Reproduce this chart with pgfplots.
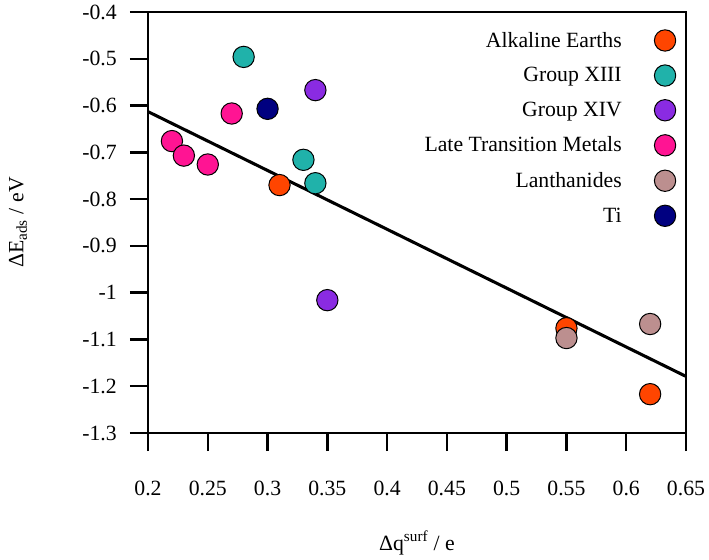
\documentclass[border=0pt]{standalone}
\usepackage{fontspec}
\setmainfont{Liberation Serif}
\usepackage{pgfplots}
\pgfplotsset{compat=1.18}
\definecolor{cAlk}{HTML}{FF4500}
\definecolor{cXIII}{HTML}{20B2AA}
\definecolor{cXIV}{HTML}{8A2BE2}
\definecolor{cLTM}{HTML}{FF1493}
\definecolor{cLan}{HTML}{BC8F8F}
\definecolor{cTi}{HTML}{000080}
\begin{document}
\begin{tikzpicture}[font=\fontsize{16.3}{19}\selectfont]
\begin{axis}[
  scale only axis,
  width=403.5pt, height=315.75pt,
  xmin=0.2, xmax=0.65, ymin=-1.3, ymax=-0.4,
  axis line style={line width=1.8pt},
  every tick/.style={black, line width=1.8pt},
  tick align=outside,
  major tick length=13.5pt,
  xtick pos=left, ytick pos=left,
  xtick={0.2,0.25,0.3,0.35,0.4,0.45,0.5,0.55,0.6,0.65},
  xticklabels={0.2,0.25,0.3,0.35,0.4,0.45,0.5,0.55,0.6,0.65},
  ytick={-1.3,-1.2,-1.1,-1,-0.9,-0.8,-0.7,-0.6,-0.5,-0.4},
  yticklabels={-1.3,-1.2,-1.1,-1,-0.9,-0.8,-0.7,-0.6,-0.5,-0.4},
  xticklabel style={inner sep=0pt, anchor=center, yshift=-27.75pt},
  yticklabel style={inner sep=0pt, anchor=east, xshift=-9.75pt},
  xlabel={Δq\textsuperscript{surf} / e},
  ylabel={ΔE\textsubscript{ads} / eV},
  every axis x label/.style={at={(axis description cs:0.5,-0.261)}, anchor=center},
  every axis y label/.style={at={(axis description cs:-0.2416,0.5)}, anchor=center, rotate=90},
  legend style={draw=none, fill=none, at={(rel axis cs:1,1)}, anchor=north east,
    xshift=-7.5pt, yshift=-12.75pt, row sep=9.75pt, column sep=22.5pt, inner sep=0pt},
  legend cell align=right,
  legend plot pos=right,
  legend image code/.code={\draw[#1] plot coordinates {(0.45cm,0cm)};},
  clip=false,
]
\addplot[black, line width=2.3pt, forget plot] coordinates {(0.2,-0.613) (0.65,-1.179)};
\addplot[only marks, mark=*, mark size=8pt, mark options={draw=black, line width=0.75pt, fill=cAlk}]
  coordinates {(0.31,-0.77) (0.55,-1.076) (0.62,-1.217)};
\addlegendentry{Alkaline Earths}
\addplot[only marks, mark=*, mark size=8pt, mark options={draw=black, line width=0.75pt, fill=cXIII}]
  coordinates {(0.28,-0.496) (0.33,-0.716) (0.34,-0.766)};
\addlegendentry{Group XIII}
\addplot[only marks, mark=*, mark size=8pt, mark options={draw=black, line width=0.75pt, fill=cXIV}]
  coordinates {(0.34,-0.567) (0.35,-1.016)};
\addlegendentry{Group XIV}
\addplot[only marks, mark=*, mark size=8pt, mark options={draw=black, line width=0.75pt, fill=cLTM}]
  coordinates {(0.22,-0.676) (0.23,-0.707) (0.25,-0.726) (0.27,-0.617)};
\addlegendentry{Late Transition Metals}
\addplot[only marks, mark=*, mark size=8pt, mark options={draw=black, line width=0.75pt, fill=cLan}]
  coordinates {(0.55,-1.097) (0.62,-1.067)};
\addlegendentry{Lanthanides}
\addplot[only marks, mark=*, mark size=8pt, mark options={draw=black, line width=0.75pt, fill=cTi}]
  coordinates {(0.30,-0.607)};
\addlegendentry{Ti}
\end{axis}
\path ([shift={(-111pt,-93pt)}]current axis.south west) rectangle ([shift={(17.25pt,9pt)}]current axis.north east);
\end{tikzpicture}
\end{document}
